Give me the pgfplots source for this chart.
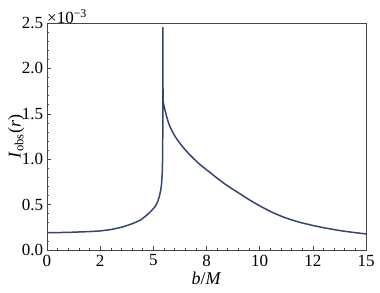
\documentclass[border=0pt]{standalone}
\usepackage{fontspec}
\setmainfont{Liberation Serif}
\usepackage{pgfplots}
\pgfplotsset{compat=1.18}
\definecolor{curve}{RGB}{55,68,118}
\definecolor{frame}{RGB}{70,70,70}
\begin{document}
\fontsize{17pt}{20pt}\selectfont
\begin{tikzpicture}
\path[use as bounding box] (-47pt,-42pt) rectangle (333pt,250pt);
\begin{axis}[
  scale only axis,
  width=319pt, height=227pt,
  xmin=0, xmax=15, ymin=0, ymax=2.5,
  axis line style={frame, line width=0.8pt},
  xtick={0,2.5,5,7.5,10,12.5,15},
  xticklabels={0,2,5,8,10,12,15},
  minor x tick num=4,
  ytick={0,0.5,1,1.5,2,2.5},
  yticklabels={0.0,0.5,1.0,1.5,2.0,2.5},
  minor y tick num=4,
  tick align=inside,
  xtick pos=bottom, ytick pos=left,
  major tick length=4pt, minor tick length=2pt,
  tick style={frame, line width=0.6pt},
  /pgf/number format/assume math mode=true,
  ticklabel style={font=\fontsize{17pt}{20pt}\selectfont},
  xticklabel style={yshift=1pt},
  yticklabel style={xshift=2pt},
  xlabel={\textit{b}/\textit{M}},
  ylabel={\textit{I}\textsubscript{obs}(\textit{r})},
  label style={font=\fontsize{18pt}{20pt}\selectfont},
  xlabel style={yshift=6pt},
  ylabel style={yshift=-14pt},
  clip=true,
]
\addplot[curve, line width=1.5pt, line join=round] coordinates {
(0,0.190) (1,0.194) (2,0.203) (2.5,0.210) (3,0.225) (3.5,0.250)
(4,0.288) (4.4,0.330) (4.7,0.385) (4.9,0.430) (5.08,0.477) (5.2,0.530)
(5.28,0.587) (5.35,0.660) (5.39,0.734) (5.42,0.850) (5.435,1.000)
(5.445,1.300) (5.45,2.450)
(5.455,1.700) (5.47,1.620) (5.55,1.540)
};
\addplot[curve, line width=1.5pt, smooth, tension=0.6] coordinates {
(5.55,1.540) (5.65,1.450) (5.78,1.360)
(6.0,1.260) (6.25,1.175) (6.55,1.090) (6.88,1.010) (7.25,0.930)
(7.66,0.855) (8.05,0.782) (8.5,0.705) (9.0,0.630) (9.5,0.555)
(10.17,0.465) (10.95,0.378) (11.74,0.315) (12.36,0.278) (12.83,0.254)
(13.3,0.233) (13.8,0.213) (14.4,0.194) (15,0.177)
};
\end{axis}
\node[anchor=south west, inner sep=1pt, font=\fontsize{17pt}{20pt}\selectfont]
  at (-1pt,225pt) {×10\textsuperscript{−3}};
\end{tikzpicture}
\end{document}
